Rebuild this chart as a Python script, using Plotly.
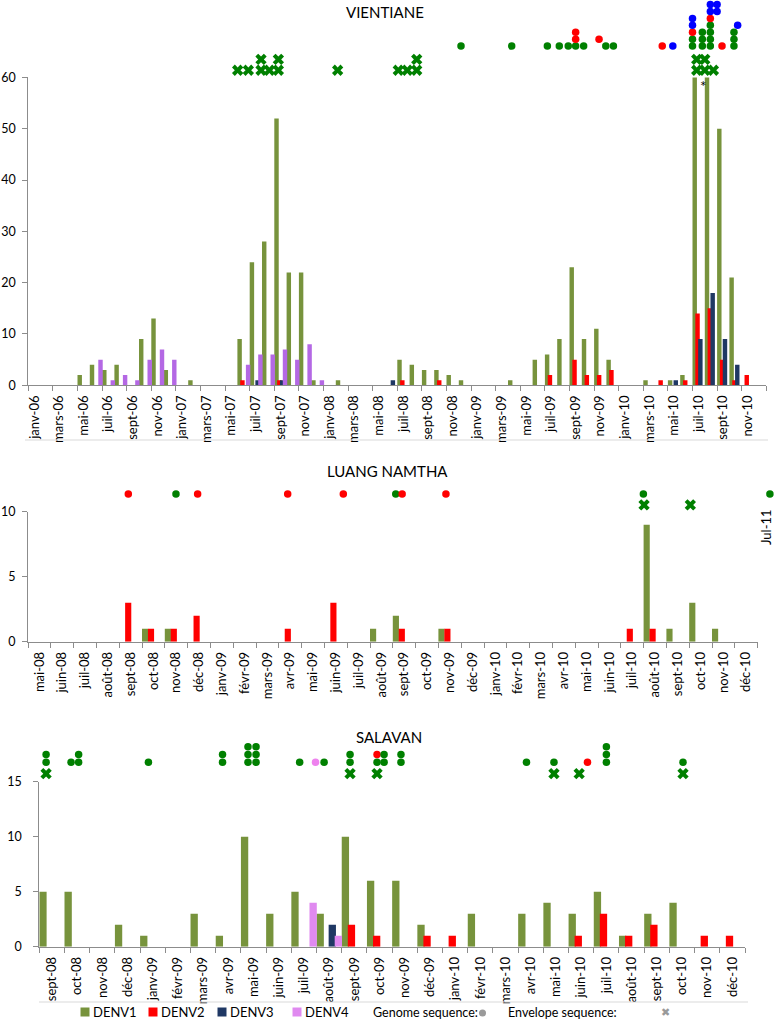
import plotly.graph_objects as go

W, H = 774, 1025
FONT = "Lato, 'Liberation Sans', sans-serif"
AX = "#8C8C8C"

# ---------------- data ----------------
vt_months = ["janv-06", "févr-06", "mars-06", "avr-06", "mai-06", "juin-06", "juil-06", "août-06", "sept-06", "oct-06", "nov-06", "déc-06",
             "janv-07", "févr-07", "mars-07", "avr-07", "mai-07", "juin-07", "juil-07", "août-07", "sept-07", "oct-07", "nov-07", "déc-07",
             "janv-08", "févr-08", "mars-08", "avr-08", "mai-08", "juin-08", "juil-08", "août-08", "sept-08", "oct-08", "nov-08", "déc-08",
             "janv-09", "févr-09", "mars-09", "avr-09", "mai-09", "juin-09", "juil-09", "août-09", "sept-09", "oct-09", "nov-09", "déc-09",
             "janv-10", "févr-10", "mars-10", "avr-10", "mai-10", "juin-10", "juil-10", "août-10", "sept-10", "oct-10", "nov-10", "déc-10"]
vt_denv1 = [0, 0, 0, 0, 2, 4, 3, 4, 0, 9, 13, 3,
            0, 1, 0, 0, 0, 9, 24, 28, 52, 22, 22, 1,
            0, 1, 0, 0, 0, 0, 5, 4, 3, 3, 2, 1,
            0, 0, 0, 1, 0, 5, 6, 9, 23, 9, 11, 5,
            0, 0, 1, 0, 1, 2, 70, 70, 50, 21, 0, 0]
vt_denv2 = [0, 0, 0, 0, 0, 0, 0, 0, 0, 0, 0, 0,
            0, 0, 0, 0, 0, 1, 0, 0, 1, 0, 0, 0,
            0, 0, 0, 0, 0, 0, 1, 0, 0, 1, 0, 0,
            0, 0, 0, 0, 0, 0, 2, 0, 5, 2, 2, 3,
            0, 0, 0, 1, 0, 1, 14, 15, 5, 1, 2, 0]
vt_denv3 = [0, 0, 0, 0, 0, 0, 0, 0, 0, 0, 0, 0,
            0, 0, 0, 0, 0, 0, 1, 0, 1, 0, 0, 0,
            0, 0, 0, 0, 0, 1, 0, 0, 0, 0, 0, 0,
            0, 0, 0, 0, 0, 0, 0, 0, 0, 0, 0, 0,
            0, 0, 0, 0, 1, 0, 9, 18, 9, 4, 0, 0]
vt_denv4 = [0, 0, 0, 0, 0, 5, 1, 2, 1, 5, 7, 5,
            0, 0, 0, 0, 0, 4, 6, 6, 7, 5, 8, 1,
            0, 0, 0, 0, 0, 0, 0, 0, 0, 0, 0, 0,
            0, 0, 0, 0, 0, 0, 0, 0, 0, 0, 0, 0,
            0, 0, 0, 0, 0, 0, 0, 0, 0, 0, 0, 0]

ln_months = ["mai-08", "juin-08", "juil-08", "août-08", "sept-08", "oct-08", "nov-08", "déc-08",
             "janv-09", "févr-09", "mars-09", "avr-09", "mai-09", "juin-09", "juil-09", "août-09", "sept-09", "oct-09", "nov-09", "déc-09",
             "janv-10", "févr-10", "mars-10", "avr-10", "mai-10", "juin-10", "juil-10", "août-10", "sept-10", "oct-10", "nov-10", "déc-10"]
ln_denv1 = [0, 0, 0, 0, 0, 1, 1, 0,
            0, 0, 0, 0, 0, 0, 0, 1, 2, 0, 1, 0,
            0, 0, 0, 0, 0, 0, 0, 9, 1, 3, 1, 0]
ln_denv2 = [0, 0, 0, 0, 3, 1, 1, 2,
            0, 0, 0, 1, 0, 3, 0, 0, 1, 0, 1, 0,
            0, 0, 0, 0, 0, 0, 1, 1, 0, 0, 0, 0]
ln_denv3 = [0] * 32
ln_denv4 = [0] * 32

sv_months = ["sept-08", "oct-08", "nov-08", "déc-08",
             "janv-09", "févr-09", "mars-09", "avr-09", "mai-09", "juin-09", "juil-09", "août-09", "sept-09", "oct-09", "nov-09", "déc-09",
             "janv-10", "févr-10", "mars-10", "avr-10", "mai-10", "juin-10", "juil-10", "août-10", "sept-10", "oct-10", "nov-10", "déc-10"]
sv_denv1 = [5, 5, 0, 2, 1, 0, 3, 1, 10, 3, 5, 3, 10, 6, 6, 2, 0, 3, 0, 3, 4, 3, 5, 1, 3, 4, 0, 0]
sv_denv2 = [0, 0, 0, 0, 0, 0, 0, 0, 0, 0, 0, 0, 2, 1, 0, 1, 1, 0, 0, 0, 0, 1, 3, 1, 2, 0, 1, 1]
sv_denv3 = [0, 0, 0, 0, 0, 0, 0, 0, 0, 0, 0, 2, 0, 0, 0, 0, 0, 0, 0, 0, 0, 0, 0, 0, 0, 0, 0, 0]
sv_denv4 = [0, 0, 0, 0, 0, 0, 0, 0, 0, 0, 4, 1, 0, 0, 0, 0, 0, 0, 0, 0, 0, 0, 0, 0, 0, 0, 0, 0]

# genome-sequence dots: (month, serotypes stacked bottom-up); envelope crosses: (month, count)
vt_genome = [("déc-08", ["DENV1"]), ("avr-09", ["DENV1"]), ("juil-09", ["DENV1"]), ("août-09", ["DENV1"]),
             ("sept-09", ["DENV1"]), ("sept-09", ["DENV1", "DENV2", "DENV2"]), ("oct-09", ["DENV1"]),
             ("nov-09", [None, "DENV2"]), ("nov-09", ["DENV1"]), ("déc-09", ["DENV1"]),
             ("avr-10", ["DENV2"]), ("mai-10", ["DENV3"]),
             ("juil-10", ["DENV1", "DENV1", "DENV2", "DENV3", "DENV3"]), ("juil-10", ["DENV1", "DENV1", "DENV1"]),
             ("août-10", ["DENV1", "DENV1", "DENV1", "DENV1", "DENV2", "DENV3", "DENV3"]),
             ("août-10", [None, None, None, None, None, "DENV3", "DENV3"]),
             ("sept-10", ["DENV2"]), ("oct-10", ["DENV1", "DENV1", "DENV1"]), ("oct-10", [None, None, None, "DENV3"])]
vt_envelope = [("juin-07", 1), ("juin-07", 1), ("juil-07", 2), ("août-07", 1), ("sept-07", 2), ("févr-08", 1),
               ("juil-08", 1), ("juil-08", 1), ("août-08", 2), ("juil-10", 2), ("juil-10", 2), ("août-10", 1)]

ln_genome = [("sept-08", ["DENV2"]), ("nov-08", ["DENV1"]), ("déc-08", ["DENV2"]), ("avr-09", ["DENV2"]),
             ("juin-09", ["DENV2"]), ("sept-09", ["DENV1"]), ("sept-09", ["DENV2"]), ("nov-09", ["DENV2"]),
             ("août-10", ["DENV1"]), ("Jul-11", ["DENV1"])]
ln_envelope = [("août-10", 1), ("oct-10", 1)]

sv_genome = [("sept-08", ["DENV1", "DENV1"]), ("oct-08", ["DENV1"]), ("oct-08", ["DENV1", "DENV1"]),
             ("janv-09", ["DENV1"]), ("avr-09", ["DENV1", "DENV1"]), ("mai-09", ["DENV1"] * 3), ("mai-09", ["DENV1"] * 3),
             ("juil-09", ["DENV1"]), ("juil-09", ["DENV4"]), ("août-09", ["DENV1"]), ("sept-09", ["DENV1", "DENV1"]),
             ("oct-09", ["DENV1", "DENV2"]), ("oct-09", ["DENV1", "DENV1"]), ("nov-09", ["DENV1", "DENV1"]),
             ("avr-10", ["DENV1"]), ("mai-10", ["DENV1"]), ("juin-10", ["DENV2"]), ("juil-10", ["DENV1"] * 3),
             ("oct-10", ["DENV1"])]
sv_envelope = [("sept-08", 1), ("sept-09", 1), ("oct-09", 1), ("mai-10", 1), ("juin-10", 1), ("oct-10", 1)]

# ---------------- styles / placement ----------------
BAR_COLORS = {"DENV1": "#77933C", "DENV2": "#FF0000", "DENV3": "#1F3864", "DENV4": "#B468E4"}
BAR_COLORS_SV = dict(BAR_COLORS, DENV4="#E08AF0")
DOT_COLORS = {"DENV1": "#008000", "DENV2": "#FF0000", "DENV3": "#0000FF", "DENV4": "#EE82EE"}

# x offsets (category units, relative to the month centre) of each marker column, same order as lists above
vt_genome_off = [-0.32, -0.2, -0.3, -0.33, -0.6, 0.0, -0.35, -0.1, 0.45, 0.07, 0.04, -0.1,
                 -0.5, 0.3, -0.05, 0.5, -0.1, -0.13, 0.17]
vt_env_off = [-0.48, 0.39, 0.42, 0.1, -0.17, -0.35, -0.42, 0.31, 0.08, -0.16, 0.5, 0.2]
ln_genome_off = [-0.1, -0.01, -0.06, -0.11, 0.33, -0.37, -0.09, -0.17, -0.51, 0.04]
ln_env_off = [-0.48, -0.45]
sv_genome_off = [-0.23, -0.24, 0.06, -0.17, -0.23, -0.22, 0.1, -0.17, 0.46, -0.2, -0.17, -0.1, 0.18, -0.15,
                 -0.17, -0.08, 0.25, 0.0, 0.04]
sv_env_off = [-0.23, -0.17, -0.1, -0.08, -0.08, 0.04]


def px(x):
    return x / W


def py(y):
    return 1 - y / H


panels = [
    dict(ax="", mk="4", months=vt_months, series=[vt_denv1, vt_denv2, vt_denv3, vt_denv4], colors=BAR_COLORS,
         offs=[-0.5, -0.27, -0.04, 0.19], width=0.36, x0=28.3, x1=766.3, y0=385.3, y1=77.4, ytop=0,
         ymax=60, dtick=10, step=2, genome=vt_genome, goff=vt_genome_off, env=vt_envelope, eoff=vt_env_off,
         dot_base=66.1, dot_step=1.35, x_base=61.4, x_step=2.1, ystand=4),
    dict(ax="2", mk="5", months=ln_months, series=[ln_denv1, ln_denv2, ln_denv3, ln_denv4], colors=BAR_COLORS,
         offs=[-0.5, -0.24, 0.02, 0.28], width=0.27, x0=28, x1=757.6, y0=641.7, y1=511.7, ytop=478,
         ymax=10, dtick=5, step=1, genome=ln_genome, goff=ln_genome_off, env=ln_envelope, eoff=ln_env_off,
         dot_base=11.36, dot_step=0.6, x_base=10.52, x_step=0.8, ystand=4),
    dict(ax="3", mk="6", months=sv_months, series=[sv_denv1, sv_denv2, sv_denv3, sv_denv4], colors=BAR_COLORS_SV,
         offs=[-0.5, -0.26, -0.02, 0.22], width=0.29, x0=39.3, x1=745, y0=946.7, y1=781.7, ytop=738,
         ymax=15, dtick=5, step=1, genome=sv_genome, goff=sv_genome_off, env=sv_envelope, eoff=sv_env_off,
         dot_base=16.76, dot_step=0.71, x_base=15.73, x_step=0.8, ystand=9),
]

fig = go.Figure()
layout = dict(width=W, height=H, margin=dict(l=0, r=0, t=0, b=0, pad=0), autosize=False, template="none",
              paper_bgcolor="white", plot_bgcolor="rgba(0,0,0,0)", barmode="overlay", showlegend=False,
              font=dict(family=FONT, size=13, color="black"))

for p in panels:
    n = len(p["months"])
    xs = list(range(n))
    key, mk = p["ax"], p["mk"]
    xa, ya = "x" + key, "y" + key
    for name, vals, off in zip(["DENV1", "DENV2", "DENV3", "DENV4"], p["series"], p["offs"]):
        fig.add_trace(go.Bar(x=xs, y=vals, offset=off, width=p["width"], name=name,
                             marker=dict(color=p["colors"][name], line=dict(width=0)),
                             xaxis=xa, yaxis=ya, hoverinfo="skip"))

    # marker layer: an invisible subplot with the same scale, extended over the area above the bars
    idx = {m: i for i, m in enumerate(p["months"])}
    dx, dy, dc = [], [], []
    for (m, stack), off in zip(p["genome"], p["goff"]):
        base = idx.get(m, n)
        for k, s in enumerate(stack):
            if s is None:
                continue
            dx.append(base + off)
            dy.append(p["dot_base"] + k * p["dot_step"])
            dc.append(DOT_COLORS[s])
    fig.add_trace(go.Scatter(x=dx, y=dy, mode="markers", hoverinfo="skip", cliponaxis=False,
                             marker=dict(symbol="circle", size=7.5, color=dc, line=dict(width=0)),
                             xaxis="x" + mk, yaxis="y" + mk))
    cx, cy = [], []
    for (m, cnt), off in zip(p["env"], p["eoff"]):
        for k in range(cnt):
            cx.append(idx[m] + off)
            cy.append(p["x_base"] + k * p["x_step"])
    fig.add_trace(go.Scatter(x=cx, y=cy, mode="markers", hoverinfo="skip", cliponaxis=False,
                             marker=dict(symbol="x", size=10, color="#008000", line=dict(width=0)),
                             xaxis="x" + mk, yaxis="y" + mk))

    cw = (p["x1"] - p["x0"]) / n
    ppu = (p["y0"] - p["y1"]) / p["ymax"]
    layout["xaxis" + mk] = dict(domain=[0, 1], range=[-0.5 - p["x0"] / cw, -0.5 + (W - p["x0"]) / cw],
                                anchor="y" + mk, visible=False, fixedrange=True, automargin=False)
    layout["yaxis" + mk] = dict(domain=[py(p["y0"]), py(p["ytop"])], range=[0, (p["y0"] - p["ytop"]) / ppu],
                                anchor="x" + mk, visible=False, fixedrange=True, automargin=False)

    layout["xaxis" + key] = dict(
        domain=[px(p["x0"]), px(p["x1"])], range=[-0.5, n - 0.5], anchor="y" + key, automargin=False,
        tickmode="array", tickvals=xs[::p["step"]], ticktext=p["months"][::p["step"]],
        tickangle=-90, ticks="", showgrid=False, zeroline=False, showline=True,
        linecolor=AX, linewidth=1, tickfont=dict(family=FONT, size=13, color="black"),
        ticklabelstandoff=4, fixedrange=True,
        minor=dict(tickmode="array", tickvals=[b - 0.5 for b in range(0, n + 1, p["step"])],
                   ticks="outside", ticklen=5, tickcolor=AX, tickwidth=1, showgrid=False),
    )
    layout["yaxis" + key] = dict(
        domain=[py(p["y0"]), py(p["y1"])], range=[0, p["ymax"]], anchor="x" + key, automargin=False,
        tickmode="linear", tick0=0, dtick=p["dtick"], ticks="outside", ticklen=5, tickcolor=AX,
        showgrid=False, zeroline=False, showline=True, linecolor=AX, linewidth=1, fixedrange=True,
        tickfont=dict(family=FONT, size=12.5, color="black"), ticklabelstandoff=p["ystand"],
    )

ann = []
for txt, x, y in [("VIENTIANE", 385, 12), ("LUANG NAMTHA", 387, 471), ("SALAVAN", 389, 737)]:
    ann.append(dict(text=txt, x=px(x), y=py(y), xref="paper", yref="paper", showarrow=False,
                    font=dict(family=FONT, size=15, color="black"), xanchor="center", yanchor="middle"))
ann.append(dict(text="Jul-11", x=px(766), y=py(527), xref="paper", yref="paper", showarrow=False,
                textangle=-90, xanchor="center", yanchor="middle",
                font=dict(family=FONT, size=13, color="black")))
ann.append(dict(text="*", x=54.35, y=58.3, xref="x", yref="y", showarrow=False,
                font=dict(family=FONT, size=15, color="black")))

# legend (drawn manually to mimic the original layout)
shapes = []
LEG_Y = 1012
leg_items = [("DENV1", 85), ("DENV2", 153), ("DENV3", 222), ("DENV4", 297)]
for name, x in leg_items:
    shapes.append(dict(type="rect", xref="paper", yref="paper", x0=px(x - 4.5), x1=px(x + 4.5),
                       y0=py(LEG_Y + 4.5), y1=py(LEG_Y - 4.5), fillcolor=BAR_COLORS_SV[name],
                       line=dict(width=0)))
    ann.append(dict(text=name, x=px(x + 6), y=py(LEG_Y), xref="paper", yref="paper", showarrow=False,
                    xanchor="left", yanchor="middle", font=dict(family=FONT, size=13, color="black")))
ann.append(dict(text="Genome sequence:", x=px(371), y=py(LEG_Y), xref="paper", yref="paper", showarrow=False,
                xanchor="left", yanchor="middle", font=dict(family=FONT, size=12.5, color="black")))
shapes.append(dict(type="circle", xref="paper", yref="paper", x0=px(479), x1=px(486), y0=py(LEG_Y + 4.5),
                   y1=py(LEG_Y - 2.5), fillcolor="#9A9A9A", line=dict(width=0)))
ann.append(dict(text="Envelope sequence:", x=px(506), y=py(LEG_Y), xref="paper", yref="paper", showarrow=False,
                xanchor="left", yanchor="middle", font=dict(family=FONT, size=12.5, color="black")))
ann.append(dict(text="✖", x=px(665), y=py(LEG_Y), xref="paper", yref="paper", showarrow=False,
                xanchor="center", yanchor="middle", font=dict(family="DejaVu Sans", size=11, color="#9A9A9A")))

# thin separators under the axis labels
for y, xa0, xa1 in [(440, 25, 768), (1002, 39, 748)]:
    shapes.append(dict(type="line", xref="paper", yref="paper", x0=px(xa0), x1=px(xa1), y0=py(y), y1=py(y),
                       line=dict(color="#D9D9D9", width=1)))

layout["annotations"] = ann
layout["shapes"] = shapes
fig.update_layout(**layout)
fig.write_html("out.html", config={"displayModeBar": False, "staticPlot": True},
               post_script="document.body.style.margin='0px';document.body.style.padding='0px';"
                           "document.documentElement.style.overflow='hidden';")
